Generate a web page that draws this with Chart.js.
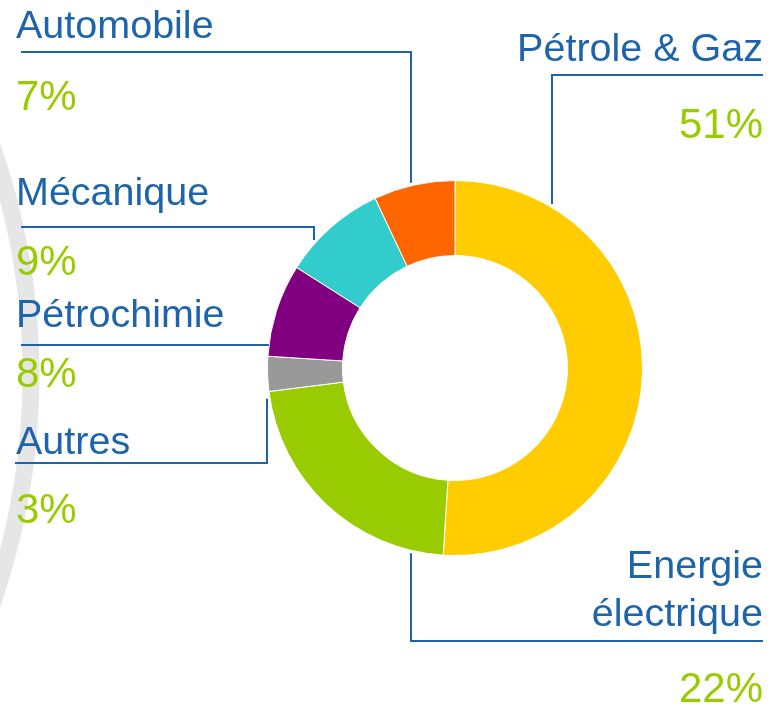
<!DOCTYPE html>
<html lang="fr">
<head>
    <meta charset="UTF-8">
    <title>Répartition par secteur</title>
    <script src="https://cdn.jsdelivr.net/npm/chart.js@4.4.0/dist/chart.umd.min.js"></script>
    <style>
        html, body {
            margin: 0;
            padding: 0;
            background: #fff;
            overflow: hidden;
        }
        canvas {
            display: block;
        }
    </style>
</head>
<body>

<canvas id="sectorChart" width="771" height="707"></canvas>

<script>
    // data, clockwise from 12 o'clock
    const categories = ['Pétrole & Gaz', ['Energie', 'électrique'], 'Autres', 'Pétrochimie', 'Mécanique', 'Automobile'];
    const shares = [51, 22, 3, 8, 9, 7];
    const sliceColors = ['#FFCC00', '#99CC00', '#999999', '#800080', '#33CCCC', '#FF6600'];

    const BLUE = '#1E64AA';
    const GREEN = '#99CC00';
    const FONT = '"Liberation Sans", Arial, sans-serif';

    // where each callout sits (same order as categories)
    const calloutLayout = [
        { side: 'right', nameY: [61],       pctY: 138, ruleY: 75,  ruleX: 552, elbow: true },
        { side: 'right', nameY: [578, 626], pctY: 702, ruleY: 641, ruleX: 411, elbow: true },
        { side: 'left',  nameY: [454],      pctY: 523, ruleY: 463, ruleX: 15,  elbow: true, elbowX: 267 },
        { side: 'left',  nameY: [327],      pctY: 387, ruleY: 345, ruleX: 21,  elbow: false },
        { side: 'left',  nameY: [205],      pctY: 275, ruleY: 227, ruleX: 21,  elbow: true, elbowX: 314 },
        { side: 'left',  nameY: [38],       pctY: 110, ruleY: 52,  ruleX: 21,  elbow: true, elbowX: 411 }
    ];
    const LEFT_X = 16;
    const RIGHT_X = 763;

    // faint grey arc in the background on the left
    const backdropArc = {
        id: 'backdropArc',
        beforeDraw(chart) {
            const c = chart.ctx;
            c.save();
            c.strokeStyle = '#E6E6E6';
            c.lineWidth = 17;
            c.beginPath();
            c.arc(-663, 375, 694, -0.5, 0.5);
            c.stroke();
            c.restore();
        }
    };

    const callouts = {
        id: 'callouts',
        afterDraw(chart) {
            const c = chart.ctx;
            const arc0 = chart.getDatasetMeta(0).data[0];
            const cx = arc0.x, cy = arc0.y, R = arc0.outerRadius;
            const gap = 3;

            c.save();
            calloutLayout.forEach((cfg, i) => {
                const name = [].concat(categories[i]);
                const right = cfg.side === 'right';
                const tx = right ? RIGHT_X : LEFT_X;
                c.textAlign = right ? 'right' : 'left';
                c.textBaseline = 'alphabetic';

                c.fillStyle = BLUE;
                c.font = '39.5px ' + FONT;
                name.forEach((line, k) => c.fillText(line, tx, cfg.nameY[k]));

                c.fillStyle = GREEN;
                c.font = '42px ' + FONT;
                c.fillText(shares[i] + '%', tx, cfg.pctY);

                // leader line
                c.strokeStyle = BLUE;
                c.lineWidth = 2;
                c.beginPath();
                if (cfg.elbow) {
                    const ex = right ? cfg.ruleX : cfg.elbowX;
                    const outer = right ? RIGHT_X : cfg.ruleX;
                    const dx = ex - cx;
                    const h = Math.sqrt(Math.max((R + gap) ** 2 - dx * dx, 0));
                    const ey = cfg.ruleY < cy ? cy - h : cy + h;
                    c.moveTo(outer, cfg.ruleY);
                    c.lineTo(ex, cfg.ruleY);
                    c.lineTo(ex, ey);
                } else {
                    const dy = cfg.ruleY - cy;
                    const w = Math.sqrt(Math.max(R * R - dy * dy, 0));
                    const ex = right ? cx + w : cx - w;
                    c.moveTo(cfg.ruleX, cfg.ruleY);
                    c.lineTo(ex, cfg.ruleY);
                }
                c.stroke();
            });
            c.restore();
        }
    };

    const ctx = document.getElementById('sectorChart').getContext('2d');
    const chart = new Chart(ctx, {
        type: 'doughnut',
        data: {
            labels: categories,
            datasets: [{
                data: shares,
                backgroundColor: sliceColors,
                borderColor: '#FFFFFF',
                borderWidth: 1
            }]
        },
        options: {
            responsive: false,
            animation: false,
            cutout: '60%',
            layout: {
                padding: { left: 267, right: 128, top: 180, bottom: 151 }
            },
            plugins: {
                legend: { display: false },
                tooltip: { enabled: false }
            }
        },
        plugins: [backdropArc, callouts]
    });
</script>

</body>
</html>
